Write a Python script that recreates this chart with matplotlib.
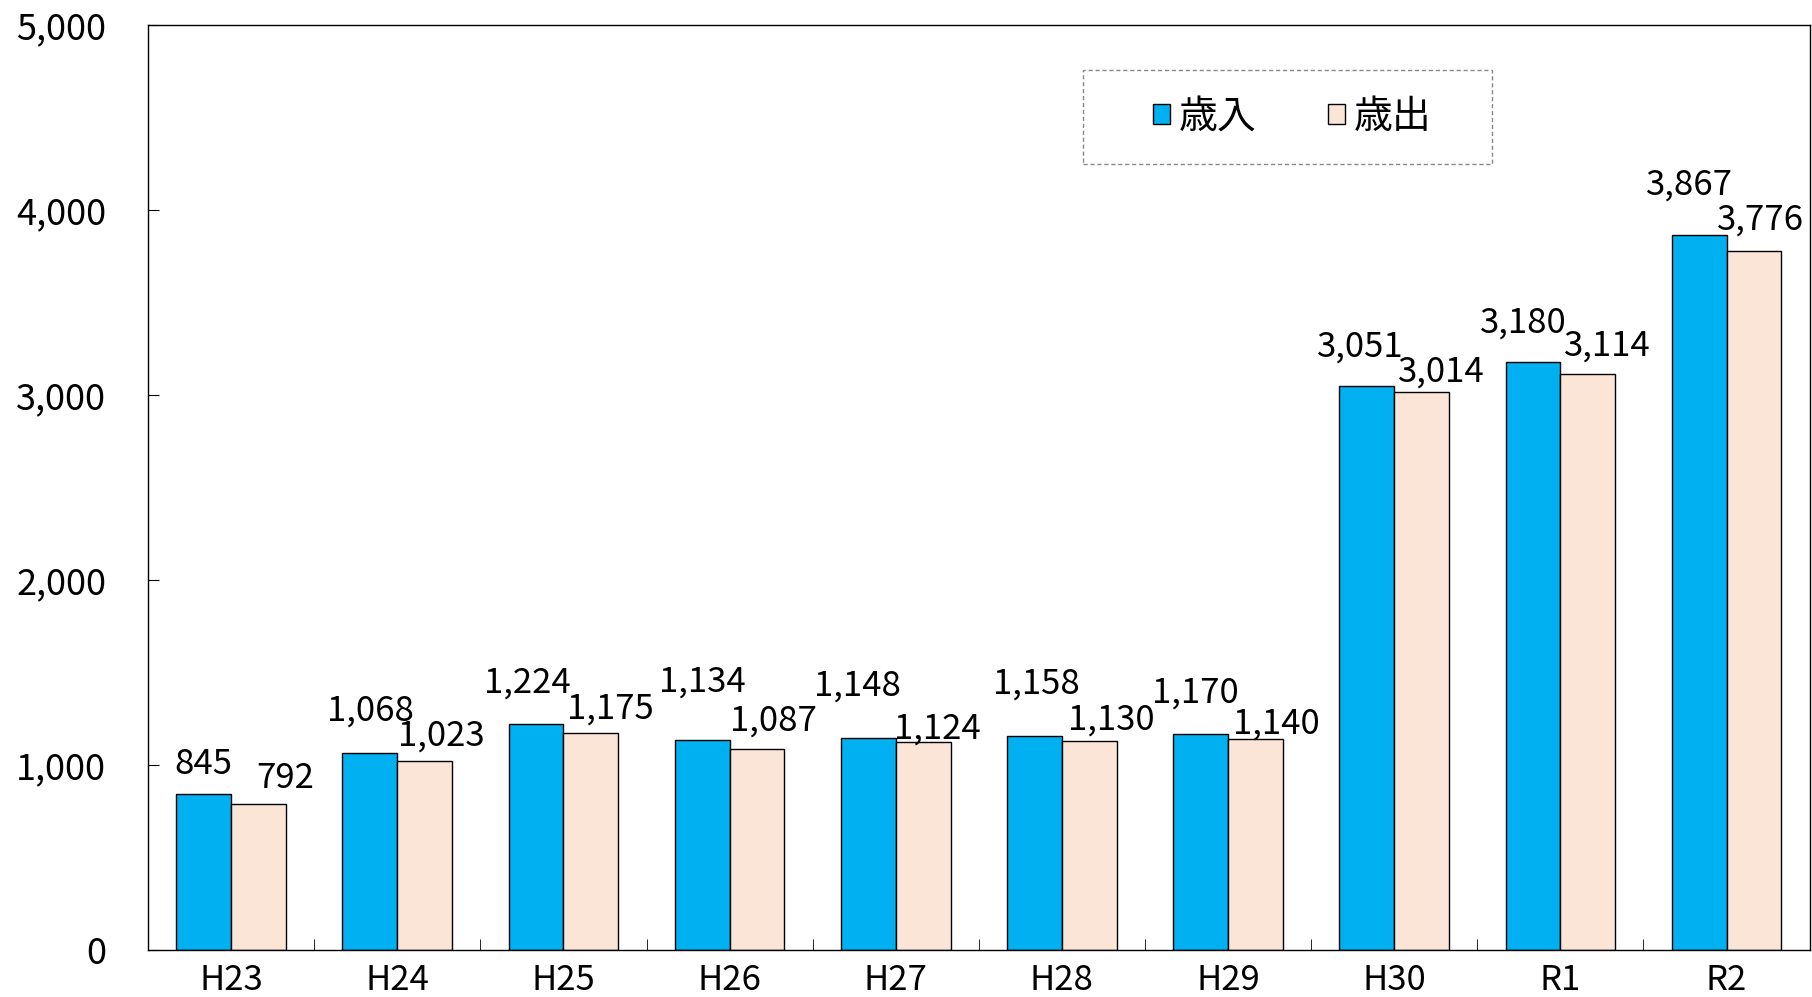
import numpy as np
import matplotlib.pyplot as plt
from matplotlib.patches import Rectangle

plt.rcParams['font.family'] = ['Noto Sans CJK JP', 'DejaVu Sans']

years = ['H23', 'H24', 'H25', 'H26', 'H27', 'H28', 'H29', 'H30', 'R1', 'R2']
revenue = [845, 1068, 1224, 1134, 1148, 1158, 1170, 3051, 3180, 3867]
expenditure = [792, 1023, 1175, 1087, 1124, 1130, 1140, 3014, 3114, 3776]

# value label nudges in pixels (dx, gap above bar top)
rev_dx = [0, 0.5, -9, 0, -11, 2, -5.5, -6.5, -10, -9.5]
rev_dy = [20, 32, 31, 49, 42, 42, 31, 29, 29, 40]
exp_dx = [27, 17, 20, 16.5, 14.5, 21.5, 21, 19.5, 19.5, 7]
exp_dy = [15.5, 15, 14, 18, 4, 11, 6, 11, 18, 22]

fig = plt.figure(figsize=(18.12, 9.97), dpi=100)
ax = fig.add_axes([0.0817, 0.047, 0.917, 0.928])

x = np.arange(len(years))
w = 0.33
ax.bar(x - w / 2, revenue, w, color='#00B0F0', edgecolor='black', linewidth=1, label='歳入')
ax.bar(x + w / 2, expenditure, w, color='#FBE5D6', edgecolor='black', linewidth=1, label='歳出')

fs = 25
px = 0.72  # points per pixel at dpi 100
for xi, v, dx, dy in zip(x, revenue, rev_dx, rev_dy):
    ax.annotate(f'{v:,}', (xi - w / 2, v), xytext=(dx * px, dy * px), textcoords='offset points',
                ha='center', va='baseline', fontsize=fs)
for xi, v, dx, dy in zip(x, expenditure, exp_dx, exp_dy):
    ax.annotate(f'{v:,}', (xi + w / 2, v), xytext=(dx * px, dy * px), textcoords='offset points',
                ha='center', va='baseline', fontsize=fs)

ax.set_xlim(-0.5, len(years) - 0.5)
ax.set_ylim(0, 5000)
ax.set_yticks(range(0, 5001, 1000))
ax.set_yticklabels([f'{t:,}' for t in range(0, 5001, 1000)])
ax.tick_params(axis='y', direction='in', length=8, pad=30, labelsize=26)

# category labels centered, tick marks between groups
ax.set_xticks(x)
ax.set_xticklabels(years)
ax.tick_params(axis='x', which='major', length=0, pad=9, labelsize=fs)
ax.set_xticks(np.arange(0.5, len(years) - 0.5, 1), minor=True)
ax.tick_params(axis='x', which='minor', direction='in', length=8)

for s in ax.spines.values():
    s.set_linewidth(1)

# dashed legend box
bx0, bx1, by0, by1 = 0.5626, 0.8087, 0.8497, 0.9514
ax.add_patch(Rectangle((bx0, by0), bx1 - bx0, by1 - by0, transform=ax.transAxes,
                       fill=True, facecolor='white', edgecolor='#888888',
                       linestyle=(0, (3, 2)), linewidth=1, zorder=4))
leg = ax.legend(loc='center', bbox_to_anchor=((bx0 + bx1) / 2 + 0.003, (by0 + by1) / 2),
                ncol=2, fontsize=28, frameon=False, handlelength=0.44, handleheight=0.44,
                handletextpad=0.23, columnspacing=1.83, borderaxespad=0)
leg.set_zorder(5)

fig.savefig('out.png', dpi=100)
